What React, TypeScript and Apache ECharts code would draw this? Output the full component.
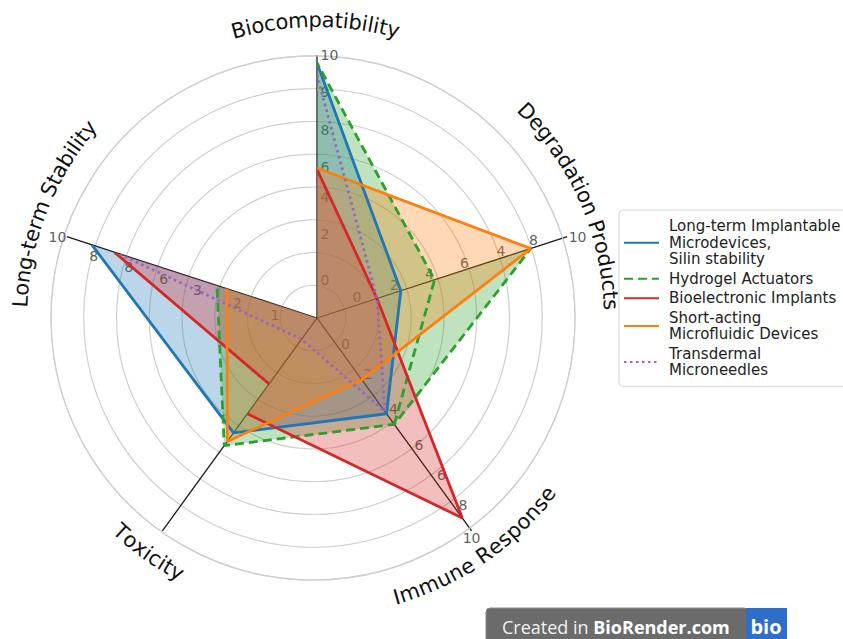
import React, { useEffect, useRef } from "react";
import * as echarts from "echarts";

// Axes, clockwise from the top
const indicators = [
  "Biocompatibility",
  "Degradation Products",
  "Immune Response",
  "Toxicity",
  "Long-term Stability",
];

const seriesNames = [
  "Long-term Implantable\nMicrodevices,\nSilin stability",
  "Hydrogel Actuators",
  "Bioelectronic Implants",
  "Short-acting\nMicrofluidic Devices",
  "Transdermal\nMicroneedles",
];

const seriesColors = ["#1f77b4", "#2ca02c", "#d62728", "#ff7f0e", "#9467bd"];

// Values in indicator order: Bio, Degradation, Immune, Toxicity, Long-term
const implantable = [9.7, 3.35, 4.5, 5.4, 9.0];
const hydrogel = [9.7, 8.55, 5.0, 6.0, 4.0];
const hydrogelInnerDegradation = 4.7;
const bioelectronic = [5.65, 2.4, 9.4, 4.5, 8.1];
const bioelectronicInnerToxicity = 3.1;
const microfluidic = [8.75, 8.55, 2.9, 5.8, 3.6];
const microfluidicInnerBio = 5.7;
const microneedles = [9.25, 2.4, 4.4, 1.0, 8.0];

// Tick labels printed along the spokes (text, and where on the 0-10 scale)
const bioTicks = ["0", "2", "4", "6", "8", "9", "10"];
const bioTickAt = [1.43, 3.2, 4.6, 5.75, 7.15, 8.6, 10.0];
const degTicks = ["0", "2", "4", "6", "4", "8"];
const degTickAt = [1.6, 3.1, 4.5, 5.9, 7.35, 8.65];
const immTicks = ["0", "2", "4", "6", "6", "8"];
const immTickAt = [1.2, 2.65, 4.3, 5.95, 7.4, 8.8];
const ltsTicks = ["1", "2", "3", "6", "8", "8"];
const ltsTickAt = [1.68, 3.18, 4.78, 6.13, 7.53, 8.93];

const FONT = "DejaVu Sans, Verdana, sans-serif";

export default function App() {
  const ref = useRef<HTMLDivElement>(null);

  useEffect(() => {
    if (!ref.current) return;
    const chart = echarts.init(ref.current, undefined, { renderer: "svg" });

    const p = (vals: number[], i: number) => [vals[i], indicators[i]];

    const paths: any[][] = [
      [p(implantable, 0), p(implantable, 1), p(implantable, 2), p(implantable, 3), p(implantable, 4), p(implantable, 0)],
      [
        p(hydrogel, 2),
        [hydrogelInnerDegradation, indicators[1]],
        p(hydrogel, 0),
        p(hydrogel, 4),
        p(hydrogel, 3),
        p(hydrogel, 2),
        p(hydrogel, 1),
      ],
      [
        p(bioelectronic, 3),
        p(bioelectronic, 2),
        p(bioelectronic, 1),
        p(bioelectronic, 0),
        p(bioelectronic, 4),
        [bioelectronicInnerToxicity, indicators[3]],
      ],
      [
        [microfluidicInnerBio, indicators[0]],
        p(microfluidic, 1),
        p(microfluidic, 2),
        p(microfluidic, 3),
        p(microfluidic, 4),
        p(microfluidic, 0),
      ],
      [p(microneedles, 0), p(microneedles, 1), p(microneedles, 2), p(microneedles, 3), p(microneedles, 4), p(microneedles, 0)],
    ];

    const lineTypes: any[] = ["solid", [9, 5], "solid", "solid", [2.5, 3.5]];
    const fillOpacity = [0.3, 0.3, 0.3, 0.3, 0.08];

    const lineSeries = paths.map((d, i) => ({
      type: "line",
      name: seriesNames[i],
      coordinateSystem: "polar",
      polarIndex: 0,
      data: d,
      symbol: "none",
      showSymbol: false,
      smooth: false,
      z: 2,
      color: seriesColors[i],
      lineStyle: { color: seriesColors[i], width: 2.8, type: lineTypes[i] },
      itemStyle: { color: seriesColors[i] },
      areaStyle: { color: seriesColors[i], opacity: fillOpacity[i] },
    }));

    const tickSeries = (items: { name: string; value: any[]; label?: any }[], position: string, distance: number) => ({
      type: "scatter",
      coordinateSystem: "polar",
      polarIndex: 0,
      silent: true,
      z: 1,
      symbolSize: 1,
      clip: false,
      itemStyle: { color: "rgba(0,0,0,0)" },
      data: items,
      label: {
        show: true,
        formatter: "{b}",
        position,
        distance,
        color: "#333",
        fontSize: 14,
        fontFamily: FONT,
      },
    });
    const ticks = (texts: string[], at: number[], axis: number) =>
      texts.map((t, k) => ({ name: t, value: [at[k], indicators[axis]] }));

    const endTicks = [
      { name: "10", value: [10, indicators[1]], label: { position: "right", distance: 1 } },
      { name: "10", value: [10, indicators[2]], label: { position: "bottom", distance: 0 } },
      { name: "10", value: [10, indicators[4]], label: { position: "left", distance: 0 } },
    ];

    const hidden = { show: false };

    // Axis names are set along a circle around the chart centre.
    // cw = reads clockwise with letter tops outward; otherwise counter-clockwise, tops inward.
    const measure = (() => {
      const ctx = document.createElement("canvas").getContext("2d");
      return (c: string, size: number) => {
        if (!ctx) return size * 0.55;
        ctx.font = `${size}px DejaVu Sans`;
        return ctx.measureText(c).width;
      };
    })();
    const arcText = (text: string, cx: number, cy: number, R: number, midDeg: number, cw: boolean, size: number) => {
      const chars = text.split("");
      const widths = chars.map((c) => measure(c, size));
      const total = widths.reduce((a, b) => a + b, 0);
      let acc = -total / 2;
      const mid = (midDeg * Math.PI) / 180;
      return chars.map((c, k) => {
        const s = acc + widths[k] / 2;
        acc += widths[k];
        const th = cw ? mid - s / R : mid + s / R;
        const rot = cw ? th - Math.PI / 2 : th + Math.PI / 2;
        return {
          type: "text",
          x: cx + R * Math.cos(th),
          y: cy - R * Math.sin(th),
          rotation: rot,
          silent: true,
          style: {
            text: c,
            fill: "#111",
            fontSize: size,
            fontFamily: FONT,
            align: "center",
            verticalAlign: "middle",
            textAlign: "center",
            textVerticalAlign: "middle",
          },
        };
      });
    };

    chart.setOption({
      animation: false,
      backgroundColor: "#ffffff",
      polar: [
        { center: [317, 318], radius: 263 },
        { center: [313, 318], radius: 262 },
      ],
      angleAxis: [
        {
          polarIndex: 0,
          type: "category",
          data: indicators,
          startAngle: 90,
          clockwise: true,
          boundaryGap: false,
          axisLine: hidden,
          axisTick: hidden,
          axisLabel: hidden,
          splitLine: { show: true, interval: 0, lineStyle: { color: "#1a1a1a", width: 1.3 } },
        },
        {
          polarIndex: 1,
          type: "value",
          min: 0,
          max: 360,
          startAngle: 90,
          axisLine: { show: true, lineStyle: { color: "#cfcfcf", width: 1.2 } },
          axisTick: hidden,
          axisLabel: hidden,
          splitLine: hidden,
        },
      ],
      radiusAxis: [
        {
          polarIndex: 0,
          type: "value",
          min: 0,
          max: 10,
          axisLine: hidden,
          axisTick: hidden,
          axisLabel: hidden,
          splitLine: hidden,
        },
        {
          polarIndex: 1,
          type: "value",
          min: 0,
          max: 8,
          interval: 1,
          axisLine: hidden,
          axisTick: hidden,
          axisLabel: hidden,
          splitLine: { show: true, lineStyle: { color: "#cfcfcf", width: 1.2 } },
        },
      ],
      legend: {
        data: seriesNames,
        orient: "vertical",
        left: 619,
        top: 210,
        padding: [8, 8, 8, 4],
        itemWidth: 35,
        itemHeight: 12,
        itemGap: 3,
        itemStyle: { opacity: 0 },
        backgroundColor: "rgba(255,255,255,0.95)",
        borderColor: "#d5d5d5",
        borderWidth: 1,
        borderRadius: 4,
        textStyle: {
          fontSize: 15,
          lineHeight: 16.5,
          fontFamily: FONT,
          color: "#222",
          padding: [0, 0, 0, 5],
        },
      },
      graphic: [
        ...arcText("Biocompatibility", 317, 318, 298, 90.3, true, 21),
        ...arcText("Degradation Products", 317, 318, 294, 23.8, true, 21),
        ...arcText("Immune Response", 317, 318, 290, -55.4, false, 21),
        ...arcText("Toxicity", 317, 318, 290, -125.7, false, 21),
        ...arcText("Long-term Stability", 317, 318, 297, 158.5, true, 21),
        {
          type: "rect",
          shape: { x: 486, y: 608, width: 262, height: 40, r: 4 },
          style: { fill: "#6b6b6b", stroke: "#8a8a8a", lineWidth: 1 },
        },
        {
          type: "rect",
          shape: { x: 746, y: 608, width: 41, height: 40 },
          style: { fill: "#2d6ec8" },
        },
        {
          type: "text",
          x: 502,
          y: 627,
          style: {
            text: "Created in {b|BioRender.com}",
            fill: "#f2f2f2",
            fontSize: 18,
            fontFamily: "Open Sans, sans-serif",
            verticalAlign: "middle",
            textVerticalAlign: "middle",
            rich: {
              b: { fontWeight: "bold", fontSize: 18, fill: "#ffffff", fontFamily: "Open Sans, sans-serif" },
            },
          },
        },
        {
          type: "text",
          x: 766,
          y: 626,
          style: {
            text: "bio",
            fill: "#ffffff",
            fontSize: 20,
            fontWeight: "bold",
            fontFamily: "Open Sans, sans-serif",
            align: "center",
            verticalAlign: "middle",
            textAlign: "center",
            textVerticalAlign: "middle",
          },
        },
      ],
      series: [
        ...lineSeries,
        tickSeries(ticks(bioTicks, bioTickAt, 0), "right", 3),
        tickSeries(ticks(degTicks, degTickAt, 1), "top", 0),
        tickSeries(ticks(immTicks, immTickAt, 2), "right", 5),
        tickSeries(ticks(ltsTicks, ltsTickAt, 4), "bottom", 3),
        tickSeries(endTicks, "right", 1),
      ],
    } as any);

    return () => chart.dispose();
  }, []);

  return (
    <div
      ref={ref}
      style={{ position: "absolute", left: 0, top: 0, width: 843, height: 639, background: "#fff" }}
    />
  );
}
